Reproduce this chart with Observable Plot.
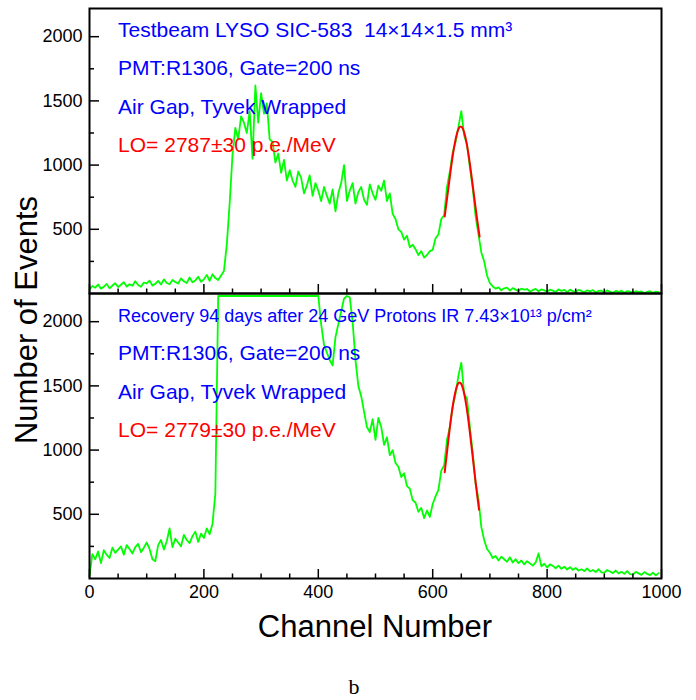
<!DOCTYPE html>
<html>
<head>
<meta charset="utf-8">
<script src="https://cdn.jsdelivr.net/npm/d3@7"></script>
<script src="https://cdn.jsdelivr.net/npm/@observablehq/plot@0.6"></script>
<style>
  body { margin: 0; background: #fff; }
  #chart { width: 696px; height: 700px; }
</style>
</head>
<body>
<div id="chart"></div>
<script>
// Pulse-height spectra of LYSO SIC-583, 5-channel bins starting at channel 0
const BIN = 5;

const topCounts = [
  30, 58, 45, 70, 38, 52, 75, 40, 62, 80,
  50, 68, 88, 55, 72, 60, 95, 66, 52, 85,
  78, 100, 62, 75, 98, 70, 110, 82, 72, 105,
  90, 78, 118, 95, 82, 125, 88, 102, 130, 92,
  110, 145, 98, 150, 120, 105, 140, 175, 380, 700,
  1080, 1290, 1200, 1380, 1330, 1250, 1420, 1050, 1620, 1330,
  1560, 1400, 1480, 1200, 1180, 1020, 1090, 940, 1040, 880,
  960, 880, 830, 950, 900, 780, 840, 920, 760, 860,
  800, 720, 830, 760, 700, 810, 640, 780, 860, 1000,
  720, 800, 860, 700, 790, 830, 730, 690, 850, 780,
  730, 840, 800, 880, 720, 780, 620, 580, 500, 480,
  420, 450, 360, 380, 345, 300, 330, 280, 300, 330,
  340, 430, 460, 580, 610, 830, 950, 1100, 1180, 1300,
  1420, 1230, 1160, 980, 820, 600, 460, 320, 250, 140,
  80, 55, 38, 48, 25, 40, 45, 22, 42, 30,
  18, 38, 30, 35, 15, 26, 36, 18, 32, 24,
  15, 30, 22, 12, 32, 20, 28, 10, 30, 18,
  10, 28, 20, 9, 25, 16, 26, 8, 20, 22,
  8, 24, 14, 6, 20, 12, 22, 5, 19, 14,
  5, 18, 10, 16, 4, 12, 18, 6, 15, 10
];

const bottomCounts = [
  20, 190, 150, 210, 120, 220, 185, 160, 240, 200,
  225, 250, 185, 260, 230, 195, 245, 270, 205, 240,
  280, 230, 150, 135, 260, 300, 225, 290, 390, 245,
  310, 280, 250, 340, 300, 275, 330, 365, 285, 350,
  315, 390, 345, 425, 660, 2600, 2900, 3100, 3250, 3350,
  3400, 3380, 3300, 3200, 3120, 3050, 2980, 2920, 2880, 2850,
  2800, 2760, 2720, 2690, 2650, 2620, 2580, 2550, 2520, 2500,
  2470, 2450, 2420, 2400, 2380, 2360, 2340, 2320, 2300, 2270,
  2250, 1980, 1820, 1760, 1700, 1660, 1880, 1980, 2080, 2180,
  2250, 2190, 2000, 1700, 1500, 1420, 1300, 1180, 1140, 1240,
  1080, 1250, 1180, 1040, 1100, 960, 1000, 900, 870, 790,
  820, 720, 700, 610, 590, 520, 550, 470, 530, 480,
  580, 640, 690, 840, 880, 1080, 1180, 1340, 1440, 1580,
  1680, 1440, 1400, 1180, 980, 740, 620, 400, 300, 230,
  200, 160, 175, 140, 170, 150, 130, 165, 125, 150,
  120, 140, 110, 135, 118, 100, 125, 195, 95, 115,
  85, 110, 98, 80, 100, 75, 92, 70, 88, 68,
  82, 62, 72, 58, 78, 55, 66, 50, 72, 48,
  45, 66, 55, 42, 62, 40, 52, 36, 58, 34,
  30, 52, 40, 28, 50, 36, 26, 45, 24, 42
];

// Gaussian fits to the photo-peak
const topFitChannels = [621, 625, 630, 635, 640, 645, 649, 653, 658, 663, 668, 673, 678, 682];
const topFitValues   = [600, 736, 910, 1071, 1200, 1280, 1300, 1280, 1200, 1071, 910, 736, 567, 443];
const bottomFitChannels = [621, 625, 630, 635, 640, 644, 647, 650, 654, 659, 664, 669, 674, 678, 681];
const bottomFitValues   = [828, 985, 1175, 1340, 1460, 1514, 1526, 1514, 1460, 1340, 1175, 985, 789, 639, 536];

const panels = ["top", "bottom"];

const topNotes = [
  "Testbeam LYSO SIC-583\u00a0 14×14×1.5 mm³",
  "PMT:R1306, Gate=200 ns",
  "Air Gap, Tyvek Wrapped",
  "LO= 2787±30 p.e./MeV"
];
const bottomNotes = [
  "Recovery 94 days after 24 GeV Protons IR 7.43×10¹³ p/cm²",
  "PMT:R1306, Gate=200 ns",
  "Air Gap, Tyvek Wrapped",
  "LO= 2779±30 p.e./MeV"
];

const xTicks = [0, 200, 400, 600, 800, 1000];
const xMinorTicks = [50, 100, 150, 250, 300, 350, 450, 500, 550, 650, 700, 750, 850, 900, 950];
const yTicks = [500, 1000, 1500, 2000];
const yMinorTicks = [250, 750, 1250, 1750];

// Tables for the marks
const spectrum = [
  ...topCounts.map((count, i) => ({panel: "top", channel: i * BIN, count})),
  ...bottomCounts.map((count, i) => ({panel: "bottom", channel: i * BIN, count}))
];
const fits = [
  ...topFitChannels.map((channel, i) => ({panel: "top", channel, count: topFitValues[i]})),
  ...bottomFitChannels.map((channel, i) => ({panel: "bottom", channel, count: bottomFitValues[i]}))
];

// Notes are placed in data coordinates, one line every 300 counts
const noteX = 50;
const noteRows = [2000, 1700, 1400, 1100];
const notes = [
  ...topNotes.map((text, i) => ({panel: "top", text, row: i, small: false})),
  ...bottomNotes.map((text, i) => ({panel: "bottom", text, row: i, small: i === 0}))
];

const chart = Plot.plot({
  width: 696,
  height: 700,
  marginLeft: 89,
  marginRight: 35,
  marginTop: 7,
  marginBottom: 122,
  style: {
    fontFamily: "'Liberation Sans', Arial, Helvetica, sans-serif",
    fontSize: "18px",
    color: "#000",
    background: "#fff"
  },
  x: {domain: [0, 1000], axis: null},
  y: {domain: [0, 2200], clamp: true, insetTop: 2.5, axis: null},
  fy: {domain: panels, padding: 0, axis: null},
  marks: [
    Plot.line(spectrum, {x: "channel", y: "count", fy: "panel", stroke: "#00ff00", strokeWidth: 1.8}),
    Plot.line(fits, {x: "channel", y: "count", fy: "panel", stroke: "#ff0000", strokeWidth: 2, curve: "natural"}),
    Plot.text(notes, {
      x: () => noteX,
      y: (d) => noteRows[d.row],
      fy: "panel",
      text: "text",
      fill: (d) => (d.row === 3 ? "#ff0000" : "#0000ff"),
      fontSize: (d) => (d.small ? 18 : 21),
      textAnchor: "start",
      lineAnchor: "bottom"
    }),
    // y axis: labels outside, ticks pointing into the frame
    Plot.axisY(yTicks, {anchor: "left", tickSize: 0, tickPadding: 7, tickFormat: "d", fontSize: 18, label: null}),
    Plot.axisY(yTicks, {anchor: "left", tickSize: -10, fill: "none", strokeWidth: 1.5, label: null}),
    Plot.axisY(yMinorTicks, {anchor: "left", tickSize: -5, fill: "none", strokeWidth: 1.5, label: null}),
    // x axis: labels on the lower panel, inward ticks on both panels
    Plot.axisX(xTicks, {anchor: "bottom", tickSize: 0, tickPadding: 7, tickFormat: "d", fontSize: 18, label: null}),
    Plot.axisX(xTicks, {anchor: "bottom", tickSize: -9, fill: "none", strokeWidth: 1.5, label: null, facetAnchor: null}),
    Plot.axisX(xMinorTicks, {anchor: "bottom", tickSize: -4.5, fill: "none", strokeWidth: 1.5, label: null, facetAnchor: null}),
    Plot.frame({stroke: "#000", strokeWidth: 2, fill: "none"})
  ]
});

const svg = d3.select(chart);
svg.append("text")
  .attr("x", 375)
  .attr("y", 637)
  .attr("text-anchor", "middle")
  .attr("font-size", 31)
  .attr("fill", "#000")
  .text("Channel Number");
svg.append("text")
  .attr("transform", "translate(37,320) rotate(-90)")
  .attr("text-anchor", "middle")
  .attr("font-size", 31)
  .attr("fill", "#000")
  .text("Number of Events");
svg.append("text")
  .attr("x", 354)
  .attr("y", 694)
  .attr("text-anchor", "middle")
  .attr("font-family", "'Liberation Serif', 'Times New Roman', serif")
  .attr("font-size", 22)
  .attr("fill", "#000")
  .text("b");

document.getElementById("chart").append(chart);
</script>
</body>
</html>
